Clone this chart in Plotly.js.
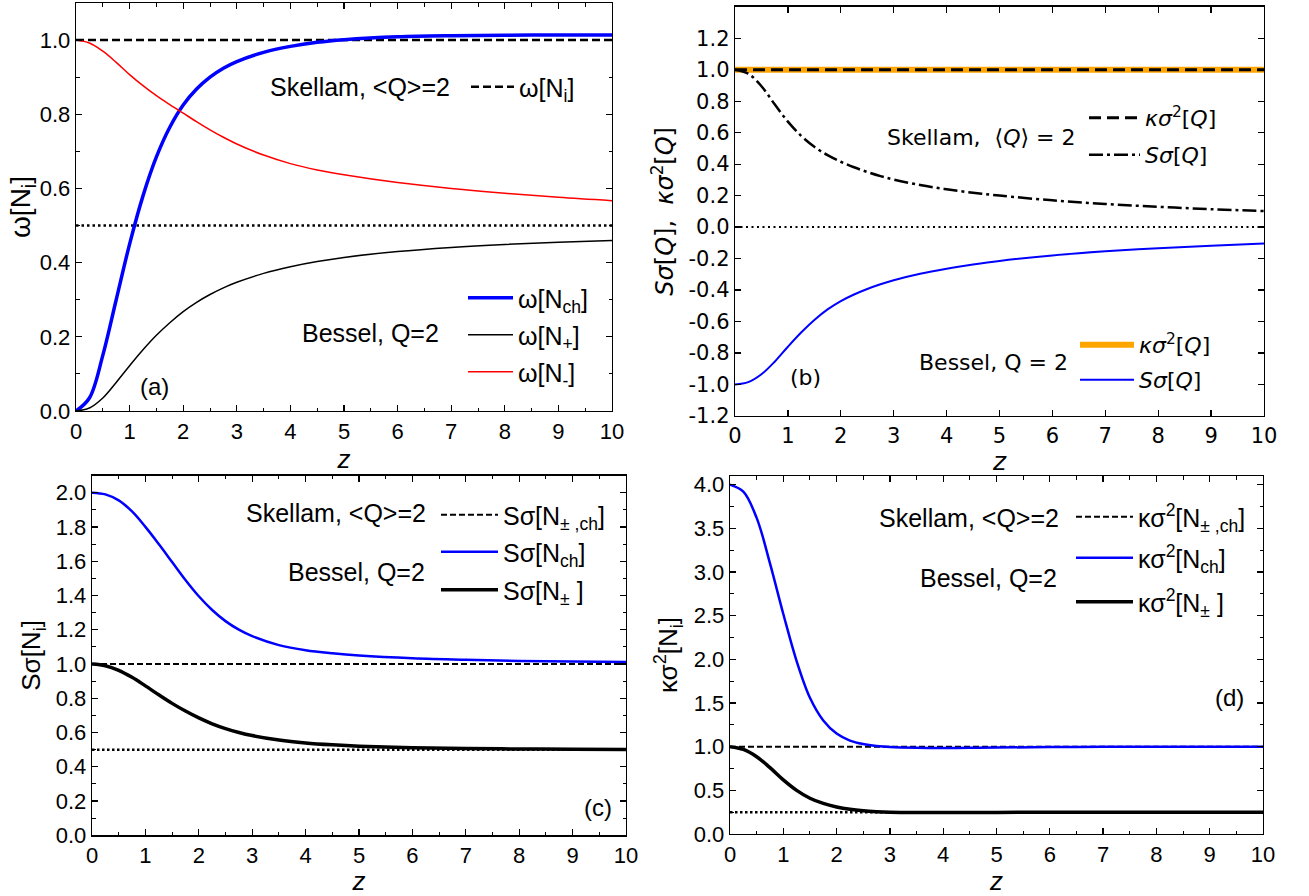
<!DOCTYPE html>
<html><head><meta charset="utf-8">
<script src="https://cdn.plot.ly/plotly-3.0.1.min.js"></script>
<style>html,body{margin:0;padding:0;background:#fff;} #chart{width:1309px;height:896px;}</style>
</head><body><div id="chart"></div>
<script>
// ---------------- data ----------------
const z = [0,0.25,0.5,0.75,1,1.25,1.5,1.75,2,2.25,2.5,2.75,3,3.5,4,4.5,5,6,7,8,9,10];
const zEnds = [0,10];

// panel (a)
const wNch = [0,0.035,0.15,0.3,0.45,0.58,0.685,0.765,0.825,0.868,0.9,0.924,0.942,0.967,0.983,0.994,1.001,1.009,1.012,1.013,1.014,1.014];
const wNplus = [0,0.008,0.035,0.077,0.122,0.165,0.204,0.238,0.268,0.293,0.314,0.332,0.347,0.371,0.389,0.403,0.414,0.43,0.441,0.449,0.455,0.46];
const wNminus = [1,0.992,0.97,0.94,0.907,0.877,0.85,0.826,0.803,0.78,0.758,0.738,0.72,0.69,0.667,0.65,0.637,0.616,0.6,0.587,0.576,0.567];
const wSkellam = [1,1];
const wLimit = [0.5,0.5];

// panel (b)
const SsQskellam = [1,0.975,0.895,0.78,0.67,0.58,0.51,0.457,0.415,0.38,0.35,0.324,0.302,0.267,0.24,0.218,0.2,0.17,0.147,0.129,0.114,0.102];
const SsQbessel = [-1,-0.985,-0.935,-0.855,-0.76,-0.67,-0.59,-0.523,-0.47,-0.428,-0.393,-0.363,-0.338,-0.297,-0.265,-0.238,-0.215,-0.18,-0.154,-0.134,-0.118,-0.104];
const ksQskellam = [1,1];
const ksQbessel = [1,1];
const zeroLine = [0,0];
const bTickVals = [-1.2,-1.0,-0.8,-0.6,-0.4,-0.2,0.0,0.2,0.4,0.6,0.8,1.0,1.2];
const bTickText = ['-1.2','-1.0','-0.8','-0.6','-0.4','-0.2','0.0','0.2','0.4','0.6','0.8','1.0','1.2'];

// panel (c)
const SsNch = [2.0,1.99,1.955,1.89,1.8,1.7,1.595,1.49,1.395,1.315,1.25,1.2,1.162,1.11,1.08,1.062,1.049,1.033,1.024,1.018,1.014,1.011];
const SsNpm = [1,0.99,0.963,0.922,0.872,0.82,0.77,0.725,0.685,0.651,0.623,0.6,0.582,0.556,0.539,0.528,0.52,0.511,0.506,0.504,0.502,0.501];
const SsSkellam = [1,1];
const SsLimit = [0.5,0.5];

// panel (d)
const ksNch = [4.0,3.92,3.62,3.1,2.52,1.98,1.56,1.3,1.15,1.07,1.03,1.008,0.996,0.987,0.985,0.987,0.99,0.995,0.998,1.0,1.0,1.0];
const ksNpm = [1.0,0.968,0.885,0.76,0.62,0.5,0.41,0.35,0.31,0.283,0.266,0.256,0.25,0.246,0.245,0.246,0.247,0.249,0.25,0.25,0.25,0.25];
const ksSkellam = [1,1];
const ksLimit = [0.25,0.25];

// ---------------- helpers ----------------
const W = 1309, H = 896;
const px = v => v / W;
const py = v => 1 - v / H;
const ARIAL = 'Liberation Sans, Arial, sans-serif';
const DEJA = 'DejaVu Sans, sans-serif';

function tr(x, y, xa, ya, name, legend, line, show) {
  return {x: x, y: y, xaxis: xa, yaxis: ya, type: 'scatter', mode: 'lines',
    name: name, legend: legend, showlegend: show !== false,
    line: Object.assign({shape: 'spline', smoothing: 1}, line), hoverinfo: 'skip'};
}

function axis(domain, range, anchor, dtick, minor, family, size, fmt) {
  const a = {domain: domain, range: range, anchor: anchor, tick0: 0, dtick: dtick,
    ticks: 'inside', ticklen: 6, tickwidth: 1.2, tickcolor: '#000', mirror: 'allticks',
    showline: true, linecolor: '#000', linewidth: 1.3, showgrid: false, zeroline: false,
    tickfont: {family: family, size: size, color: '#000'}, fixedrange: true};
  if (fmt) a.tickformat = fmt;
  if (minor) a.minor = {ticks: 'inside', dtick: minor, ticklen: 3.5, tickwidth: 1, tickcolor: '#000', showgrid: false};
  return a;
}

function leg(x, y, w, family, size) {
  return {x: px(x), y: py(y), xanchor: 'left', yanchor: 'middle', bgcolor: 'rgba(0,0,0,0)',
    borderwidth: 0, itemwidth: w, font: {family: family, size: size, color: '#000'},
    itemclick: false, itemdoubleclick: false};
}

function ann(text, x, y, xanchor, family, size) {
  return {text: text, x: px(x), y: py(y), xref: 'paper', yref: 'paper', xanchor: xanchor,
    yanchor: 'middle', showarrow: false, font: {family: family, size: size, color: '#000'}};
}

// ---------------- traces ----------------
const traces = [
  // (a)
  tr(zEnds, wSkellam, 'x', 'y', 'ω[N<sub>i</sub>]', 'legend', {color: '#000', width: 2.5, dash: '8px,4px'}),
  tr(zEnds, wLimit, 'x', 'y', '', 'legend', {color: '#000', width: 2.5, dash: '2.5px,3px'}, false),
  tr(z, wNch, 'x', 'y', 'ω[N<sub>ch</sub>]', 'legend2', {color: '#0000ff', width: 3.5}),
  tr(z, wNplus, 'x', 'y', 'ω[N<sub>+</sub>]', 'legend3', {color: '#000', width: 1.5}),
  tr(z, wNminus, 'x', 'y', 'ω[N<sub>-</sub>]', 'legend4', {color: '#ff0000', width: 1.5}),
  // (b)
  tr(zEnds, ksQbessel, 'x2', 'y2', '<i>κσ</i><sup>2</sup>[<i>Q</i>]', 'legend7', {color: '#ffa500', width: 6}),
  tr(zEnds, ksQskellam, 'x2', 'y2', '<i>κσ</i><sup>2</sup>[<i>Q</i>]', 'legend5', {color: '#000', width: 3, dash: '12px,6px'}),
  tr(z, SsQskellam, 'x2', 'y2', '<i>Sσ</i>[<i>Q</i>]', 'legend6', {color: '#000', width: 2.5, dash: '14px,4px,3px,4px'}),
  tr(zEnds, zeroLine, 'x2', 'y2', '', 'legend5', {color: '#000', width: 2, dash: '2px,3.5px'}, false),
  tr(z, SsQbessel, 'x2', 'y2', '<i>Sσ</i>[<i>Q</i>]', 'legend8', {color: '#0000ff', width: 2}),
  // (c)
  tr(zEnds, SsSkellam, 'x3', 'y3', 'Sσ[N<sub>± ,ch</sub>]', 'legend9', {color: '#000', width: 2, dash: '6px,3px'}),
  tr(zEnds, SsLimit, 'x3', 'y3', '', 'legend9', {color: '#000', width: 2.5, dash: '2.5px,2.5px'}, false),
  tr(z, SsNch, 'x3', 'y3', 'Sσ[N<sub>ch</sub>]', 'legend10', {color: '#0000ff', width: 2.5}),
  tr(z, SsNpm, 'x3', 'y3', 'Sσ[N<sub>±</sub> ]', 'legend11', {color: '#000', width: 3.5}),
  // (d)
  tr(zEnds, ksSkellam, 'x4', 'y4', 'κσ<sup>2</sup>[N<sub>± ,ch</sub>]', 'legend12', {color: '#000', width: 2, dash: '6px,3px'}),
  tr(zEnds, ksLimit, 'x4', 'y4', '', 'legend12', {color: '#000', width: 2.5, dash: '2.5px,2.5px'}, false),
  tr(z, ksNch, 'x4', 'y4', 'κσ<sup>2</sup>[N<sub>ch</sub>]', 'legend13', {color: '#0000ff', width: 2.5}),
  tr(z, ksNpm, 'x4', 'y4', 'κσ<sup>2</sup>[N<sub>±</sub> ]', 'legend14', {color: '#000', width: 3.5})
];

// ---------------- layout ----------------
const xa = axis([px(76), px(612)], [0, 10], 'y', 1, 0.5, ARIAL, 22, 'd');
xa.title = {text: '<i>z</i>', font: {family: ARIAL, size: 26, color: '#000'}, standoff: 4};
const ya = axis([py(411), py(3)], [0, 1.1], 'x', 0.2, 0.1, ARIAL, 22, '.1f');
ya.title = {text: 'ω[N<sub>i</sub>]', font: {family: ARIAL, size: 28, color: '#000'}, standoff: 0};

const xb = axis([px(735), px(1264)], [0, 10], 'y2', 1, null, DEJA, 21, 'd');
xb.title = {text: '<i>z</i>', font: {family: DEJA, size: 25, color: '#000'}, standoff: 4};
const yb = axis([py(416), py(6.7)], [-1.2, 1.4], 'x2', 0.2, null, DEJA, 21);
yb.tickmode = 'array'; yb.tickvals = bTickVals; yb.ticktext = bTickText;
yb.title = {text: '<i>Sσ</i>[<i>Q</i>],  <i>κσ</i><sup>2</sup>[<i>Q</i>]', font: {family: DEJA, size: 24, color: '#000'}, standoff: 8};

const xc = axis([px(92), px(626)], [0, 10], 'y3', 1, 0.5, ARIAL, 22, 'd');
xc.title = {text: '<i>z</i>', font: {family: ARIAL, size: 26, color: '#000'}, standoff: 6};
const yc = axis([py(835.3), py(475.5)], [0, 2.1], 'x3', 0.2, 0.1, ARIAL, 22, '.1f');
yc.title = {text: 'Sσ[N<sub>i</sub>]', font: {family: ARIAL, size: 26, color: '#000'}, standoff: 7};

const xd = axis([px(730), px(1263)], [0, 10], 'y4', 1, 0.5, ARIAL, 22, 'd');
xd.title = {text: '<i>z</i>', font: {family: ARIAL, size: 26, color: '#000'}, standoff: 6};
const yd = axis([py(834), py(476)], [0, 4.1], 'x4', 0.5, 0.25, ARIAL, 22, '.1f');
yd.title = {text: 'κσ<sup>2</sup>[N<sub>i</sub>]', font: {family: ARIAL, size: 26, color: '#000'}, standoff: 8};

const layout = {
  width: W, height: H, margin: {l: 0, r: 0, t: 0, b: 0}, paper_bgcolor: '#fff', plot_bgcolor: '#fff',
  showlegend: true,
  xaxis: xa, yaxis: ya, xaxis2: xb, yaxis2: yb, xaxis3: xc, yaxis3: yc, xaxis4: xd, yaxis4: yd,
  legend: leg(466, 87, 43, ARIAL, 25),
  legend2: leg(463, 298, 45, ARIAL, 25),
  legend3: leg(463, 335, 45, ARIAL, 25),
  legend4: leg(463, 372, 45, ARIAL, 25),
  legend5: leg(1084, 118, 51, DEJA, 22),
  legend6: leg(1084, 155, 51, DEJA, 22),
  legend7: leg(1075, 345, 54, DEJA, 22),
  legend8: leg(1075, 380, 54, DEJA, 22),
  legend9: leg(436, 515, 57, ARIAL, 25),
  legend10: leg(436, 552, 57, ARIAL, 25),
  legend11: leg(436, 590, 57, ARIAL, 25),
  legend12: leg(1071, 517, 57, ARIAL, 25),
  legend13: leg(1071, 558, 57, ARIAL, 25),
  legend14: leg(1071, 602, 57, ARIAL, 25),
  annotations: [
    ann('Skellam, &lt;Q&gt;=2', 452, 87, 'right', ARIAL, 25),
    ann('Bessel, Q=2', 441, 333, 'right', ARIAL, 25),
    ann('(a)', 154, 387, 'center', ARIAL, 24),
    ann('Skellam,  ⟨<i>Q</i>⟩ = 2', 1077, 137, 'right', DEJA, 22),
    ann('Bessel, Q = 2', 1070, 362, 'right', DEJA, 22),
    ann('(b)', 805, 377, 'center', DEJA, 22),
    ann('Skellam, &lt;Q&gt;=2', 428, 513, 'right', ARIAL, 25),
    ann('Bessel, Q=2', 427, 572, 'right', ARIAL, 25),
    ann('(c)', 598, 807, 'center', ARIAL, 24),
    ann('Skellam, &lt;Q&gt;=2', 1061, 518, 'right', ARIAL, 25),
    ann('Bessel, Q=2', 1059, 578, 'right', ARIAL, 25),
    ann('(d)', 1229, 697, 'center', ARIAL, 24)
  ]
};

Plotly.newPlot('chart', traces, layout, {displayModeBar: false, staticPlot: true});
</script>
</body></html>
